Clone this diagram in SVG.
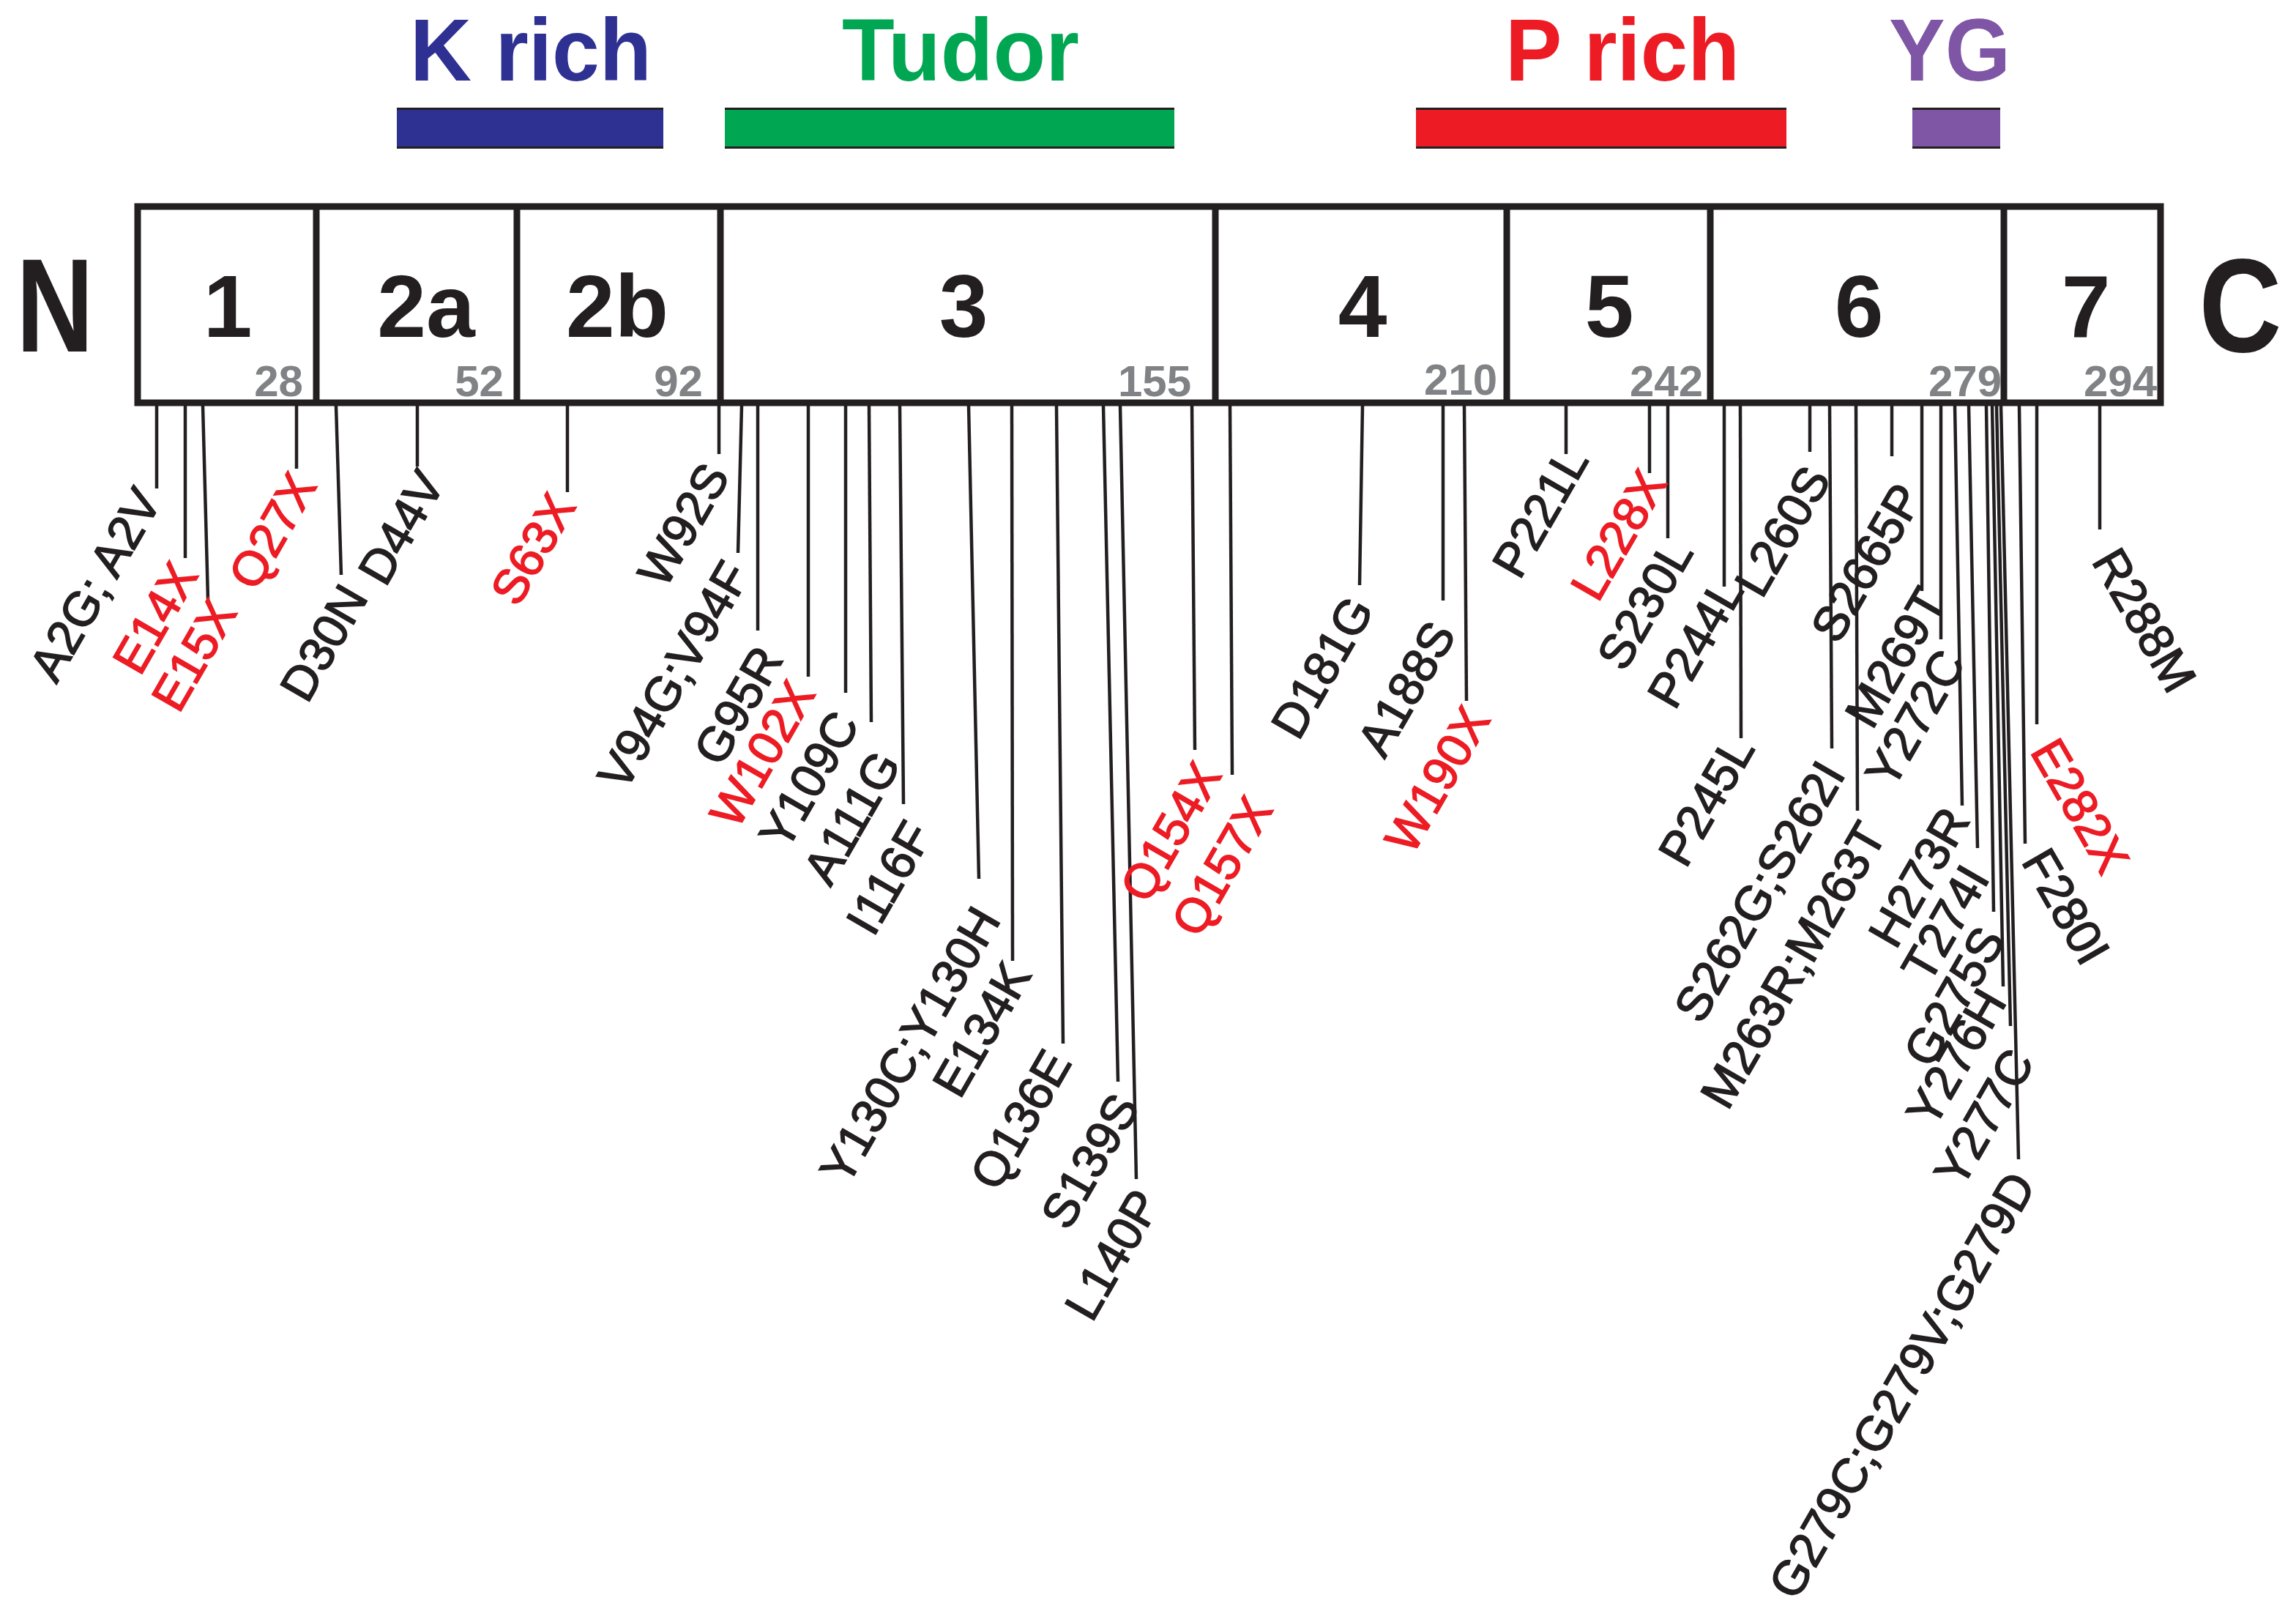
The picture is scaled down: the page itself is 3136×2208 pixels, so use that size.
<svg xmlns="http://www.w3.org/2000/svg" width="3136" height="2208" viewBox="0 0 3136 2208">
<style>
.dl{font-family:"Liberation Sans",Arial,sans-serif;font-weight:bold;font-size:120px;text-anchor:middle}
.big{font-family:"Liberation Sans",Arial,sans-serif;font-weight:bold;font-size:181px;fill:#231f20;text-anchor:middle}
.ex{font-family:"Liberation Sans",Arial,sans-serif;font-weight:bold;font-size:120px;fill:#231f20;text-anchor:middle}
.num{font-family:"Liberation Sans",Arial,sans-serif;font-weight:bold;font-size:60px;fill:#808285;text-anchor:end}
.m{font-family:"Liberation Sans",Arial,sans-serif;font-size:66px;fill:#231f20;stroke:#231f20;stroke-width:1.6;text-anchor:end}
.mr{font-family:"Liberation Sans",Arial,sans-serif;font-size:66px;fill:#231f20;stroke:#231f20;stroke-width:1.6;text-anchor:start}
.red{fill:#ed1c24;stroke:#ed1c24}
.bar{stroke:#231f20;stroke-width:3}
.box{fill:#fff;stroke:#231f20;stroke-width:9}
.div{stroke:#231f20;stroke-width:9}
#connectors line{stroke:#231f20;stroke-width:4.5}
</style>
<rect width="3136" height="2208" fill="#fff"/>

<g id="domain-krich">
<rect x="542" y="147" width="364" height="56" fill="#2e3192"/>
<line class="bar" x1="542" y1="148.5" x2="906" y2="148.5"/><line class="bar" x1="542" y1="201.5" x2="906" y2="201.5"/>
<text class="dl" x="725" y="110" fill="#2e3192" textLength="330" lengthAdjust="spacingAndGlyphs">K rich</text>
</g>
<g id="domain-tudor">
<rect x="990" y="147" width="614" height="56" fill="#00a651"/>
<line class="bar" x1="990" y1="148.5" x2="1604" y2="148.5"/><line class="bar" x1="990" y1="201.5" x2="1604" y2="201.5"/>
<text class="dl" x="1312" y="110" fill="#00a651" textLength="324" lengthAdjust="spacingAndGlyphs">Tudor</text>
</g>
<g id="domain-prich">
<rect x="1934" y="147" width="506" height="56" fill="#ed1c24"/>
<line class="bar" x1="1934" y1="148.5" x2="2440" y2="148.5"/><line class="bar" x1="1934" y1="201.5" x2="2440" y2="201.5"/>
<text class="dl" x="2216" y="110" fill="#ed1c24" textLength="320" lengthAdjust="spacingAndGlyphs">P rich</text>
</g>
<g id="domain-yg">
<rect x="2612" y="147" width="120" height="56" fill="#7f55a5"/>
<line class="bar" x1="2612" y1="148.5" x2="2732" y2="148.5"/><line class="bar" x1="2612" y1="201.5" x2="2732" y2="201.5"/>
<text class="dl" x="2663" y="110" fill="#7f55a5" textLength="166" lengthAdjust="spacingAndGlyphs">YG</text>
</g>

<g id="terminus-N"><text class="big" x="75" y="480" textLength="106" lengthAdjust="spacingAndGlyphs">N</text></g>
<g id="terminus-C"><text class="big" x="3060" y="480" textLength="113" lengthAdjust="spacingAndGlyphs">C</text></g>

<g id="protein">
<rect class="box" x="188" y="282" width="2763" height="268"/>
<line class="div" x1="432" y1="282" x2="432" y2="550"/>
<line class="div" x1="706" y1="282" x2="706" y2="550"/>
<line class="div" x1="984" y1="282" x2="984" y2="550"/>
<line class="div" x1="1660" y1="282" x2="1660" y2="550"/>
<line class="div" x1="2058" y1="282" x2="2058" y2="550"/>
<line class="div" x1="2336" y1="282" x2="2336" y2="550"/>
<line class="div" x1="2737" y1="282" x2="2737" y2="550"/>
</g>
<g id="exon-1"><text class="ex" x="311" y="460">1</text><text class="num" x="414" y="541">28</text></g>
<g id="exon-2a"><text class="ex" x="582" y="460">2a</text><text class="num" x="688" y="541">52</text></g>
<g id="exon-2b"><text class="ex" x="843" y="460">2b</text><text class="num" x="960" y="541">92</text></g>
<g id="exon-3"><text class="ex" x="1316" y="460">3</text><text class="num" x="1627" y="541">155</text></g>
<g id="exon-4"><text class="ex" x="1861" y="460">4</text><text class="num" x="2045" y="539">210</text></g>
<g id="exon-5"><text class="ex" x="2198" y="460">5</text><text class="num" x="2326" y="541">242</text></g>
<g id="exon-6"><text class="ex" x="2539" y="460">6</text><text class="num" x="2734" y="541">279</text></g>
<g id="exon-7"><text class="ex" x="2849" y="460">7</text><text class="num" x="2946" y="541">294</text></g>

<g id="connectors">
<line x1="214" y1="554" x2="214" y2="667"/>
<line x1="253" y1="554" x2="253" y2="762"/>
<line x1="277" y1="554" x2="284" y2="818"/>
<line x1="405" y1="554" x2="405" y2="640"/>
<line x1="459" y1="554" x2="466" y2="785"/>
<line x1="570" y1="554" x2="570" y2="637"/>
<line x1="775" y1="554" x2="775" y2="672"/>
<line x1="982" y1="554" x2="982" y2="620"/>
<line x1="1013" y1="554" x2="1008" y2="755"/>
<line x1="1035" y1="554" x2="1035" y2="861"/>
<line x1="1104" y1="554" x2="1104" y2="924"/>
<line x1="1155" y1="554" x2="1155" y2="946"/>
<line x1="1187" y1="554" x2="1190" y2="986"/>
<line x1="1229" y1="554" x2="1234" y2="1098"/>
<line x1="1323" y1="554" x2="1337" y2="1200"/>
<line x1="1382" y1="554" x2="1383" y2="1312"/>
<line x1="1443" y1="554" x2="1452" y2="1425"/>
<line x1="1507" y1="554" x2="1527" y2="1477"/>
<line x1="1530" y1="554" x2="1552" y2="1610"/>
<line x1="1628" y1="554" x2="1632" y2="1024"/>
<line x1="1680" y1="554" x2="1683" y2="1058"/>
<line x1="1861" y1="554" x2="1857" y2="799"/>
<line x1="1971" y1="554" x2="1971" y2="820"/>
<line x1="2000" y1="554" x2="2003" y2="957"/>
<line x1="2139" y1="554" x2="2139" y2="620"/>
<line x1="2253" y1="554" x2="2253" y2="646"/>
<line x1="2278" y1="554" x2="2278" y2="735"/>
<line x1="2355" y1="554" x2="2355" y2="801"/>
<line x1="2377" y1="554" x2="2378" y2="1008"/>
<line x1="2472" y1="554" x2="2472" y2="617"/>
<line x1="2499" y1="554" x2="2502" y2="1022"/>
<line x1="2535" y1="554" x2="2537" y2="1107"/>
<line x1="2584" y1="554" x2="2584" y2="623"/>
<line x1="2625" y1="554" x2="2625" y2="807"/>
<line x1="2651" y1="554" x2="2651" y2="873"/>
<line x1="2670" y1="554" x2="2680" y2="1100"/>
<line x1="2689" y1="554" x2="2701" y2="1158"/>
<line x1="2713" y1="554" x2="2723" y2="1245"/>
<line x1="2721" y1="554" x2="2736" y2="1347"/>
<line x1="2727" y1="554" x2="2746" y2="1401"/>
<line x1="2733" y1="554" x2="2757" y2="1583"/>
<line x1="2758" y1="554" x2="2766" y2="1152"/>
<line x1="2782" y1="554" x2="2782" y2="989"/>
<line x1="2868" y1="554" x2="2868" y2="723"/>
</g>

<g id="mutations">
<g id="m-A2"><text class="m" transform="translate(222,684) rotate(-60)">A2G; A2V</text></g>
<g id="m-E14X"><text class="m red" transform="translate(272,785) rotate(-60)">E14X</text></g>
<g id="m-E15X"><text class="m red" transform="translate(325,836) rotate(-60)">E15X</text></g>
<g id="m-Q27X"><text class="m red" transform="translate(434,663) rotate(-60)">Q27X</text></g>
<g id="m-D30N"><text class="m" transform="translate(504,816) rotate(-60)">D30N</text></g>
<g id="m-D44V"><text class="m" transform="translate(609,660) rotate(-60)">D44V</text></g>
<g id="m-S63X"><text class="m red" transform="translate(788,691) rotate(-60)">S63X</text></g>
<g id="m-W92S"><text class="m" transform="translate(998,650) rotate(-60)">W92S</text></g>
<g id="m-V94"><text class="m" transform="translate(1026,784) rotate(-60)">V94G;V94F</text></g>
<g id="m-G95R"><text class="m" transform="translate(1071,900) rotate(-60)">G95R</text></g>
<g id="m-W102X"><text class="m red" transform="translate(1115,947) rotate(-60)">W102X</text></g>
<g id="m-Y109C"><text class="m" transform="translate(1175,989) rotate(-60)">Y109C</text></g>
<g id="m-A111G"><text class="m" transform="translate(1232,1043) rotate(-60)">A111G</text></g>
<g id="m-I116F"><text class="m" transform="translate(1275,1139) rotate(-60)">I116F</text></g>
<g id="m-Y130"><text class="m" transform="translate(1368,1256) rotate(-60)">Y130C;Y130H</text></g>
<g id="m-E134K"><text class="m" transform="translate(1410,1331) rotate(-60)">E134K</text></g>
<g id="m-Q136E"><text class="m" transform="translate(1465,1451) rotate(-60)">Q136E</text></g>
<g id="m-S139S"><text class="m" transform="translate(1558,1511) rotate(-60)">S139S</text></g>
<g id="m-L140P"><text class="m" transform="translate(1587,1642) rotate(-60)">L140P</text></g>
<g id="m-Q154X"><text class="m red" transform="translate(1670,1058) rotate(-60)">Q154X</text></g>
<g id="m-Q157X"><text class="m red" transform="translate(1740,1105) rotate(-60)">Q157X</text></g>
<g id="m-D181G"><text class="m" transform="translate(1878,832) rotate(-60)">D181G</text></g>
<g id="m-A188S"><text class="m" transform="translate(1990,866) rotate(-60)">A188S</text></g>
<g id="m-W190X"><text class="m red" transform="translate(2037,982) rotate(-60)">W190X</text></g>
<g id="m-P221L"><text class="m" transform="translate(2171,628) rotate(-60)">P221L</text></g>
<g id="m-L228X"><text class="m red" transform="translate(2278,659) rotate(-60)">L228X</text></g>
<g id="m-S230L"><text class="m" transform="translate(2314,754) rotate(-60)">S230L</text></g>
<g id="m-P244L"><text class="m" transform="translate(2383,806) rotate(-60)">P244L</text></g>
<g id="m-P245L"><text class="m" transform="translate(2398,1022) rotate(-60)">P245L</text></g>
<g id="m-L260S"><text class="m" transform="translate(2502,654) rotate(-60)">L260S</text></g>
<g id="m-S262"><text class="m" transform="translate(2522,1057) rotate(-60)">S262G;S262I</text></g>
<g id="m-M263"><text class="m" transform="translate(2578,1140) rotate(-60)">M263R;M263T</text></g>
<g id="m-S2665P"><text class="m" transform="translate(2628,678) rotate(-60)">S2665P</text></g>
<g id="m-M269T"><text class="m" transform="translate(2660,820) rotate(-60)">M269T</text></g>
<g id="m-Y272C"><text class="m" transform="translate(2686,905) rotate(-60)">Y272C</text></g>
<g id="m-H273R"><text class="m" transform="translate(2692,1120) rotate(-60)">H273R</text></g>
<g id="m-T274I"><text class="m" transform="translate(2719,1199) rotate(-60)">T274I</text></g>
<g id="m-G275S"><text class="m" transform="translate(2740,1283) rotate(-60)">G275S</text></g>
<g id="m-Y276H"><text class="m" transform="translate(2742,1368) rotate(-60)">Y276H</text></g>
<g id="m-Y277C"><text class="m" transform="translate(2780,1450) rotate(-60)">Y277C</text></g>
<g id="m-G279"><text class="m" transform="translate(2782,1618) rotate(-60)">G279C;G279V;G279D</text></g>
<g id="m-F280I"><text class="mr" transform="translate(2760,1176) rotate(60)">F280I</text></g>
<g id="m-E282X"><text class="mr red" transform="translate(2772,1026) rotate(60)">E282X</text></g>
<g id="m-R288M"><text class="mr" transform="translate(2856,766) rotate(60)">R288M</text></g>
</g>
</svg>
